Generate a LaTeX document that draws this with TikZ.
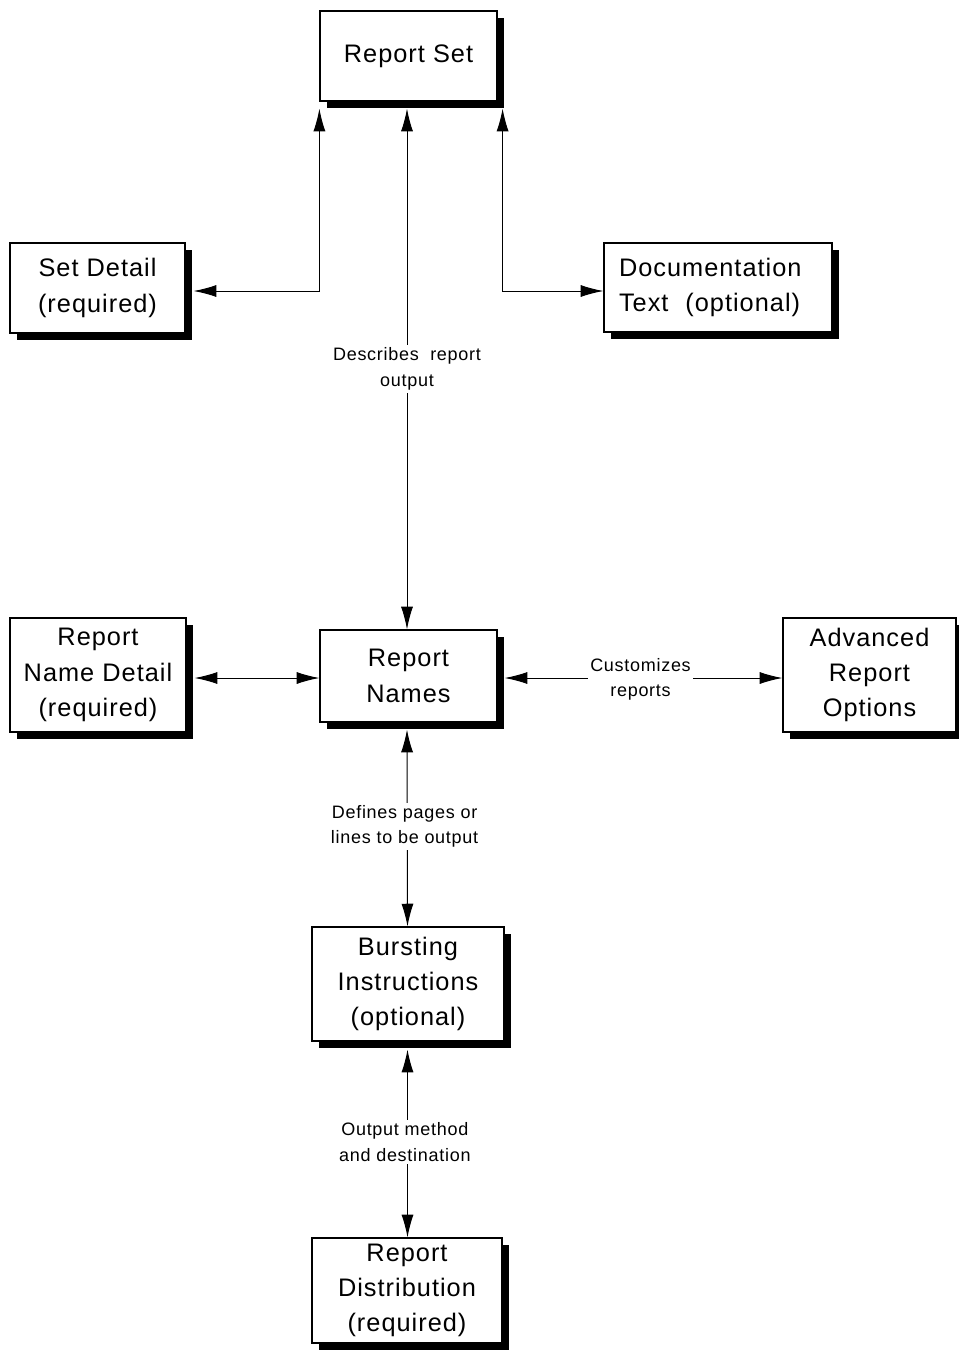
\documentclass[tikz,border=0pt]{standalone}
\usepackage{fontspec}
\setmainfont{Liberation Sans}[LetterSpace=4]
\usetikzlibrary{arrows.meta,calc}
\tikzset{
  ebox/.style={draw=black, line width=0.9pt, fill=white, align=center, inner sep=0pt,
    font=\fontsize{19}{26.5}\selectfont,
    preaction={fill=black, transform canvas={xshift=5.25pt, yshift=-5.5pt}}},
  conn/.style={line width=0.75pt, {Latex[length=17pt,width=9pt]}-{Latex[length=17pt,width=9pt]}},
  lbl/.style={fill=white, align=center, inner sep=2pt, font=\fontsize{13.5}{19}\selectfont}
}
\begin{document}
\begin{tikzpicture}[x=0.75pt,y=-0.75pt]
\useasboundingbox (0,0) rectangle (958,1357);
\node[ebox, minimum width=177*0.75pt, minimum height=90*0.75pt] (rs) at (408.5,56) {\raisebox{-2pt}{Report Set}};
\node[ebox, minimum width=175*0.75pt, minimum height=90*0.75pt] (sd) at (97.5,288) {Set Detail\\(required)};
\node[ebox, minimum width=228*0.75pt, minimum height=89*0.75pt, text width=198*0.75pt, align=left] (dt) at (718,287.5) {Documentation\\Text\ \ (optional)};
\node[ebox, minimum width=176*0.75pt, minimum height=114*0.75pt] (rnd) at (98,675) {Report\\Name Detail\\(required)};
\node[ebox, minimum width=177*0.75pt, minimum height=92*0.75pt] (rn) at (408.5,676) {Report\\Names};
\node[ebox, minimum width=173*0.75pt, minimum height=114*0.75pt] (aro) at (869.5,675) {Advanced\\Report\\Options};
\node[ebox, minimum width=192*0.75pt, minimum height=114*0.75pt] (bi) at (408,984) {Bursting\\Instructions\\(optional)};
\node[ebox, minimum width=190*0.75pt, minimum height=105*0.75pt] (rdist) at (407,1290.5) {Report\\Distribution\\(required)};

\coordinate (rsL) at ($(rs.south west)+(0,7)$);
\coordinate (rsM) at ($(rs.south)+(-1.5,7)$);
\coordinate (rsR) at ($(rs.south east)+(5,7)$);
\draw[conn] (rsL) |- ($(sd.east)+(8,3)$);
\draw[conn] (rsR) |- ($(dt.west)+(0,3.5)$);
\draw[conn] (rsM) -- (rn.north -| rsM) node[lbl, pos=0.49, yshift=-5*0.75pt] {Describes\ \ report\\output};
\draw[conn] ($(rnd.east)+(8,3)$) -- ($(rn.west)+(0,2)$);
\draw[conn] ($(rn.east)+(7,2)$) -- ($(aro.west)+(0,3)$) node[lbl, midway, xshift=-3*0.75pt, yshift=-1pt] {Customizes\\reports};
\draw[conn] ($(rn.south)+(-1.5,7)$) -- ($(bi.north)+(-0.5,0)$) node[lbl, midway, xshift=-2pt, yshift=1pt] {Defines pages or\\lines to be output};
\draw[conn] ($(bi.south)+(-0.5,8)$) -- ($(rdist.north)+(0.5,0)$) node[lbl, pos=0.46, xshift=-2pt, yshift=-6*0.75pt] {Output method\\and destination};
\end{tikzpicture}
\end{document}
